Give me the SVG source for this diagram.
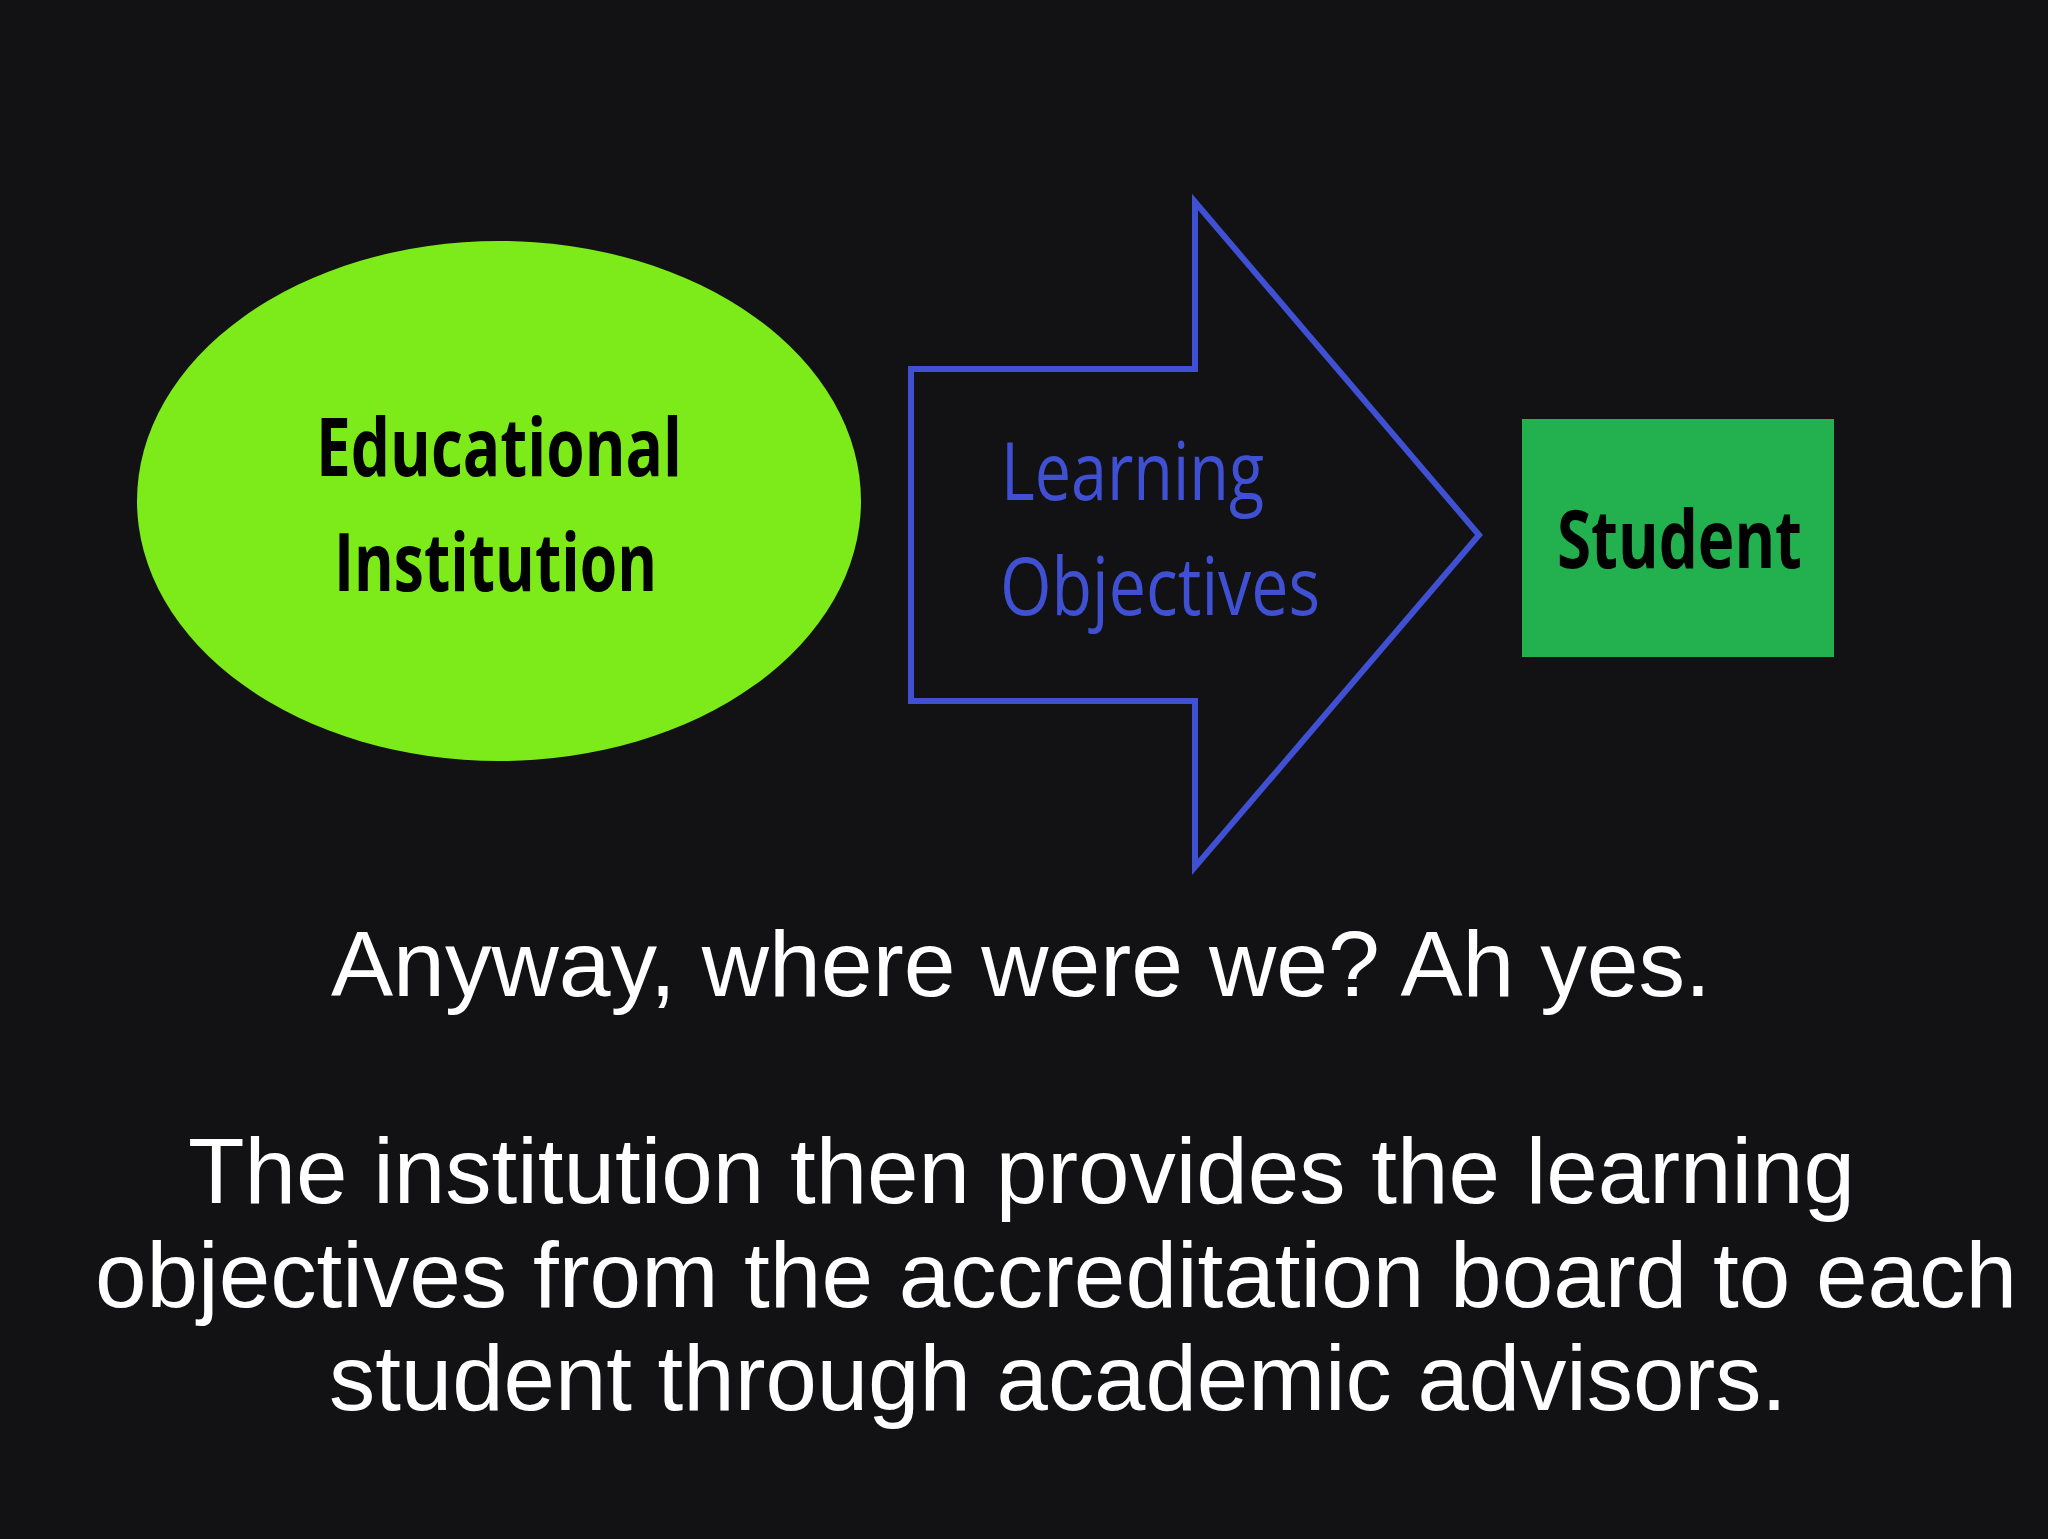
<svg xmlns="http://www.w3.org/2000/svg" width="2048" height="1539" viewBox="0 0 2048 1539">
  <style>
    .lbl { font-family: "Open Sans", "Lato", "Liberation Sans", sans-serif; font-size: 80px; }
    .dark { fill: #000000; font-weight: 700; }
    .blue { fill: #4050D2; font-weight: 400; }
    .caption { font-family: "Liberation Sans", Arial, sans-serif; font-size: 93px; fill: #FFFFFF; }
  </style>
  <rect x="0" y="0" width="2048" height="1539" fill="#121214"/>

  <g id="node-educational-institution">
    <ellipse cx="499" cy="501" rx="362" ry="260" fill="#7DEB1A"/>
    <text class="lbl dark" x="316" y="476" textLength="366" lengthAdjust="spacingAndGlyphs">Educational</text>
    <text class="lbl dark" x="334" y="591" textLength="323" lengthAdjust="spacingAndGlyphs">Institution</text>
  </g>

  <g id="connectors">
    <g id="arrow-learning-objectives">
      <polygon points="911,369 1195,369 1195,202 1479,535 1195,867 1195,701 911,701" fill="none" stroke="#4050D2" stroke-width="6" stroke-linejoin="miter"/>
      <text class="lbl blue" x="1001" y="500" textLength="263" lengthAdjust="spacingAndGlyphs">Learning</text>
      <text class="lbl blue" x="1000" y="615" textLength="320" lengthAdjust="spacingAndGlyphs">Objectives</text>
    </g>
  </g>

  <g id="node-student">
    <rect x="1522" y="419" width="312" height="238" fill="#23B04E"/>
    <text class="lbl dark" x="1557" y="568" textLength="245" lengthAdjust="spacingAndGlyphs">Student</text>
  </g>

  <g id="caption">
    <text class="caption" x="331" y="996" textLength="1380" lengthAdjust="spacingAndGlyphs">Anyway, where were we? Ah yes.</text>
    <text class="caption" x="188" y="1203" textLength="1667" lengthAdjust="spacingAndGlyphs">The institution then provides the learning</text>
    <text class="caption" x="95" y="1307" textLength="1922" lengthAdjust="spacingAndGlyphs">objectives from the accreditation board to each</text>
    <text class="caption" x="329" y="1410" textLength="1458" lengthAdjust="spacingAndGlyphs">student through academic advisors.</text>
  </g>
</svg>
